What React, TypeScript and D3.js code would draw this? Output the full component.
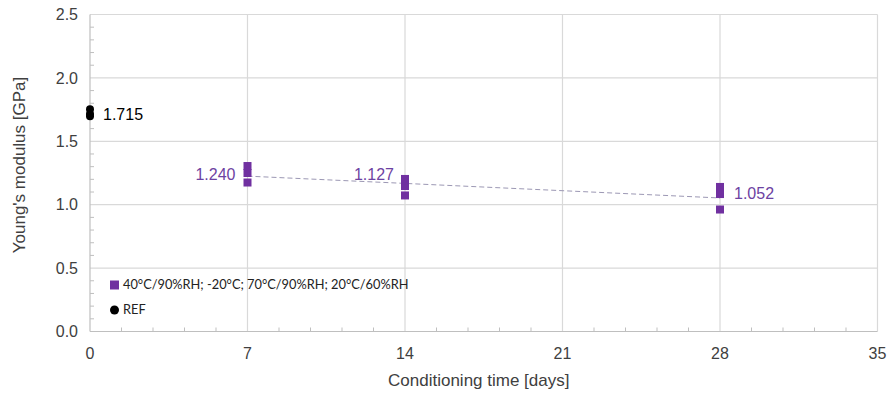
import React from "react";
import * as d3 from "d3";

const W = 891;
const H = 399;

const xTicks = [0, 7, 14, 21, 28, 35];
const yTicks = [0, 0.5, 1.0, 1.5, 2.0, 2.5];

const seriesDays = [7, 7, 7, 14, 14, 14, 28, 28, 28];
const seriesValues = [1.305, 1.25, 1.175, 1.203, 1.147, 1.073, 1.14, 1.084, 0.962];

const refDays = [0, 0, 0];
const refValues = [1.752, 1.715, 1.697];

const labelDays = [7, 14, 28];
const labelTexts = ["1.240", "1.127", "1.052"];
const labelValues = [1.24, 1.127, 1.052];

const seriesName = "40°C/90%RH; -20°C; 70°C/90%RH; 20°C/60%RH";
const refName = "REF";
const refLabel = "1.715";

const PURPLE = "#7030a0";
const LABEL_PURPLE = "#6d42a2";
const GRID = "#d9d9d9";
const AXIS = "#bfbfbf";
const TEXT = "#404040";

export default function App() {
  const margin = { left: 90, right: 13.5, top: 14.5, bottom: 67.5 };
  const x = d3.scaleLinear().domain([0, 35]).range([margin.left, W - margin.right]);
  const y = d3.scaleLinear().domain([0, 2.5]).range([H - margin.bottom, margin.top]);

  // linear trend from group means
  const groups = d3.groups(
    seriesDays.map((d, i) => ({ d, v: seriesValues[i] })),
    (p) => p.d
  ).map(([d, arr]) => ({ d, v: d3.mean(arr, (p) => p.v) as number }));
  const mx = d3.mean(groups, (g) => g.d) as number;
  const my = d3.mean(groups, (g) => g.v) as number;
  const sxy = d3.sum(groups, (g) => (g.d - mx) * (g.v - my));
  const sxx = d3.sum(groups, (g) => (g.d - mx) ** 2);
  const slope = sxy / sxx;
  const icpt = my - slope * mx;
  const x0 = d3.min(groups, (g) => g.d) as number;
  const x1 = d3.max(groups, (g) => g.d) as number;
  const trend = d3.line<number>().x((d) => x(d)).y((d) => y(icpt + slope * d))([x0, x1]) || "";

  const xMinor = d3.range(0, 35.001, 1.4).filter((v) => !xTicks.some((t) => Math.abs(t - v) < 1e-6));
  const yMinor = d3.range(0, 2.5001, 0.1).filter((v) => !yTicks.some((t) => Math.abs(t - v) < 1e-6));

  const ms = 8;
  const font = "'Liberation Sans', Arial, sans-serif";
  const legendFont = "Lato, 'Open Sans', sans-serif";

  const labelPos = [
    { dx: -12, dy: 0, anchor: "end" },
    { dx: -11, dy: -14, anchor: "end" },
    { dx: 14, dy: -5, anchor: "start" },
  ];

  return (
    <svg width={W} height={H} style={{ position: "absolute", left: 0, top: 0, background: "#fff" }}>
      <rect x={0} y={0} width={W} height={H} fill="#fff" />
      {/* grid */}
      {yTicks.filter((t) => t > 0).map((t) => (
        <line key={"gy" + t} x1={x(0)} x2={x(35)} y1={y(t)} y2={y(t)} stroke={GRID} strokeWidth={1.2} />
      ))}
      {xTicks.filter((t) => t > 0).map((t) => (
        <line key={"gx" + t} x1={x(t)} x2={x(t)} y1={y(0)} y2={y(2.5)} stroke={GRID} strokeWidth={1.2} />
      ))}
      {/* axes */}
      <line x1={x(0)} x2={x(35)} y1={y(0)} y2={y(0)} stroke={AXIS} strokeWidth={1.2} />
      <line x1={x(0)} x2={x(0)} y1={y(0)} y2={y(2.5)} stroke={AXIS} strokeWidth={1.2} />
      {xMinor.map((t) => (
        <line key={"mx" + t} x1={x(t)} x2={x(t)} y1={y(0)} y2={y(0) - 4} stroke={AXIS} />
      ))}
      {yMinor.map((t) => (
        <line key={"my" + t} x1={x(0)} x2={x(0) + 4} y1={y(t)} y2={y(t)} stroke={AXIS} />
      ))}
      {/* tick labels */}
      {yTicks.map((t) => (
        <text key={"ty" + t} x={x(0) - 12} y={y(t)} dy="0.35em" textAnchor="end" fontFamily={font} fontSize={16} fill={TEXT}>
          {d3.format(".1f")(t)}
        </text>
      ))}
      {xTicks.map((t) => (
        <text key={"tx" + t} x={x(t)} y={y(0) + 22} dy="0.35em" textAnchor="middle" fontFamily={font} fontSize={16} fill={TEXT}>
          {t}
        </text>
      ))}
      {/* axis titles */}
      <text x={(x(0) + x(35)) / 2 - 5} y={y(0) + 49} dy="0.35em" textAnchor="middle" fontFamily={font} fontSize={17} fill={TEXT}>
        Conditioning time [days]
      </text>
      <text
        transform={`translate(19,${(y(0) + y(2.5)) / 2 - 8}) rotate(-90)`}
        dy="0.35em"
        textAnchor="middle"
        fontFamily={font}
        fontSize={17}
        fill={TEXT}
      >
        Young's modulus [GPa]
      </text>
      {/* trend */}
      <path d={trend} fill="none" stroke="#9c98b4" strokeWidth={1} strokeDasharray="5,3" />
      {/* series markers */}
      {seriesDays.map((d, i) => (
        <rect key={"s" + i} x={x(d) - ms / 2} y={y(seriesValues[i]) - ms / 2} width={ms} height={ms} fill={PURPLE} />
      ))}
      {refDays.map((d, i) => (
        <circle key={"r" + i} cx={x(d)} cy={y(refValues[i])} r={4} fill="#000" />
      ))}
      {/* data labels */}
      {labelDays.map((d, i) => (
        <text
          key={"l" + i}
          x={x(d) + labelPos[i].dx}
          y={y(labelValues[i]) + labelPos[i].dy}
          dy="0.35em"
          textAnchor={labelPos[i].anchor}
          fontFamily={font}
          fontSize={16}
          fill={LABEL_PURPLE}
        >
          {labelTexts[i]}
        </text>
      ))}
      <text x={x(0) + 13} y={y(1.715)} dy="0.35em" fontFamily={font} fontSize={16} fill="#000">
        {refLabel}
      </text>
      {/* legend */}
      <rect x={110} y={280.5} width={9} height={9} fill={PURPLE} />
      <text x={123} y={285} dy="0.35em" fontFamily={legendFont} fontSize={12.8} fill="#222">
        {seriesName}
      </text>
      <circle cx={114.5} cy={310} r={4.5} fill="#000" />
      <text x={123} y={310} dy="0.35em" fontFamily={legendFont} fontSize={12.8} fill="#222">
        {refName}
      </text>
    </svg>
  );
}
